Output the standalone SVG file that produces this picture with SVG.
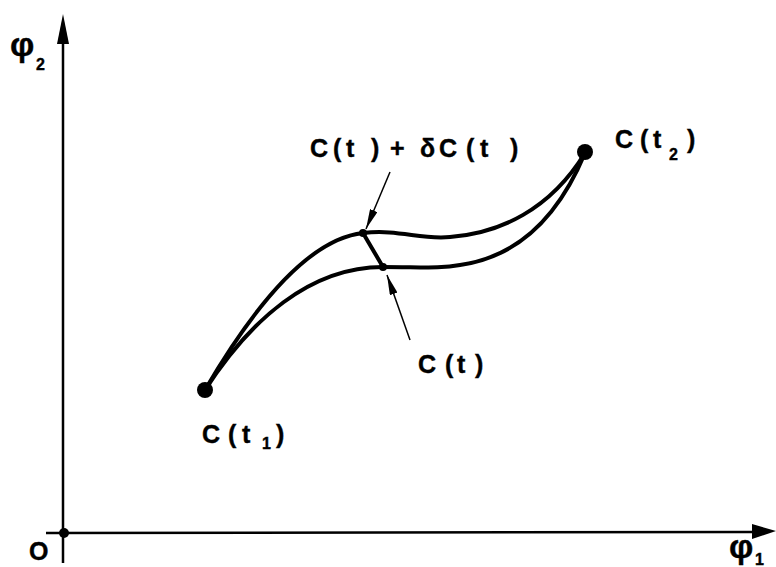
<svg xmlns="http://www.w3.org/2000/svg" width="776" height="567" viewBox="0 0 776 567">
<style>
.t{font-family:"Liberation Sans",Arial,sans-serif;font-weight:bold;font-size:25px;fill:#000;stroke:#000;stroke-width:0.4}
.s{font-size:16px}
.ax{stroke:#000;stroke-width:2.5;fill:none}
.cv{stroke:#000;stroke-width:4;fill:none;stroke-linecap:round}
.ld{stroke:#000;stroke-width:1.5;fill:none}
</style>
<defs>
<marker id="ah" viewBox="0 0 20 8" refX="20" refY="4" markerWidth="20" markerHeight="8" markerUnits="userSpaceOnUse" orient="auto">
<path d="M0,0 L20,4 L0,8 Z" fill="#000"/>
</marker>
</defs>
<g id="axes">
<line class="ax" x1="63" y1="563" x2="63" y2="40"/>
<polygon points="63,14 57,44 69,44" fill="#000"/>
<line class="ax" x1="46" y1="533" x2="755" y2="532"/>
<polygon points="776,531 752,524 752,539" fill="#000"/>
<circle cx="64" cy="533" r="5" fill="#000"/>
<text class="t" x="29" y="560" style="font-size:25px">O</text>
<text class="t" x="10" y="56" style="font-size:34px">φ</text>
<text class="t s" x="36" y="70">2</text>
<text class="t" x="729" y="558" style="font-size:34px">φ</text>
<text class="t s" x="755" y="565">1</text>
</g>
<g id="connectors">
<path class="cv" d="M205,390 C240,330 300,240 363,233 C400,229 420,240 450,237 C500,233 550,210 585,153"/>
<path class="cv" d="M205,390 C250,320 310,267 383,267 C420,267 440,269 460,265 C510,258 555,225 585,153"/>
<line class="cv" x1="363" y1="233" x2="383" y2="267"/>
<line class="ld" x1="390" y1="172" x2="366" y2="229" marker-end="url(#ah)"/>
<line class="ld" x1="410" y1="340" x2="387" y2="275" marker-end="url(#ah)"/>
</g>
<g id="p-start">
<circle cx="205" cy="390" r="8" fill="#000"/>
<text class="t" y="443"><tspan x="202">C</tspan><tspan x="228">(</tspan><tspan x="242">t</tspan><tspan x="262" y="449" class="s">1</tspan><tspan x="276" y="443">)</tspan></text>
</g>
<g id="p-end">
<circle cx="585" cy="152" r="8" fill="#000"/>
<text class="t" y="148"><tspan x="615">C</tspan><tspan x="640">(</tspan><tspan x="653">t</tspan><tspan x="669" y="160" class="s">2</tspan><tspan x="687" y="148">)</tspan></text>
</g>
<g id="p-varied">
<circle cx="363" cy="233" r="4" fill="#000"/>
<text class="t" y="157"><tspan x="310">C</tspan><tspan x="333">(</tspan><tspan x="346">t</tspan><tspan x="371">)</tspan><tspan x="390">+</tspan><tspan x="420">δ</tspan><tspan x="439">C</tspan><tspan x="466">(</tspan><tspan x="480">t</tspan><tspan x="510">)</tspan></text>
</g>
<g id="p-curve">
<circle cx="383" cy="267" r="4" fill="#000"/>
<text class="t" y="373"><tspan x="418">C</tspan><tspan x="445">(</tspan><tspan x="457">t</tspan><tspan x="475">)</tspan></text>
</g>
</svg>
